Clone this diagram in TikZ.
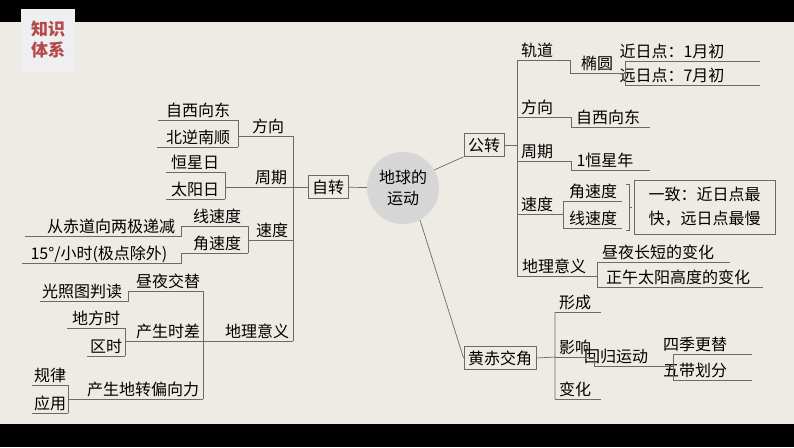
\documentclass[tikz,border=0pt]{standalone}
\usepackage{fontspec}
\setmainfont{Noto Sans CJK SC}
\begin{document}
\begin{tikzpicture}[x=1pt,y=-1pt,
  lab/.style={anchor=base,inner sep=0pt,font=\fontsize{16}{18}\selectfont,text=black},
  ln/.style={draw=lncol,line width=0.7pt},
  bx/.style={draw=lncol,line width=0.9pt,inner sep=4pt,font=\fontsize{16}{18}\selectfont}]
\definecolor{bgc}{HTML}{EDEBE3}
\definecolor{lncol}{HTML}{6E6A5E}
\definecolor{badge}{HTML}{EFEFF1}
\definecolor{redc}{HTML}{B5484A}
\fill[bgc] (0,0) rectangle (794,447);
\fill[black] (0,0) rectangle (794,22);
\fill[black] (0,424) rectangle (794,447);
\fill[badge] (21,9) rectangle (75,72);
\node[text=redc,font=\fontsize{17}{21}\selectfont\bfseries,align=center] (badge) at (48,40) {知识\\体系};
\newcommand\tx[4]{\node[lab] (#1) at (#2,#3-4) {#4};}
% center
\node[circle,fill=black!16,minimum size=72pt,inner sep=0pt,align=center,font=\fontsize{16}{21}\selectfont] (c) at (403,188) {地球的\\运动};
\node[bx] (zz) at (328,187) {自转};
\node[bx] (gzb) at (484,145) {公转};
\node[bx] (hc) at (500,358) {黄赤交角};
\draw[ln] (c) -- (zz);
\draw[ln] (c.30) -- (gzb.south west);
\draw[ln] (c.-62) -- (hc.west);
% left texts
\tx{fx}{268}{136}{方向}\tx{zx}{198}{120}{自西向东}\tx{bn}{198}{147}{北逆南顺}
\tx{zq}{271}{187}{周期}\tx{hx}{195}{172}{恒星日}\tx{ty}{195}{199}{太阳日}
\tx{sd}{272}{240}{速度}\tx{xs}{217}{226}{线速度}\tx{js}{217}{253}{角速度}
\tx{cd}{111}{236}{从赤道向两极递减}\tx{jd}{99}{263}{15°/小时(极点除外)}
\tx{dl}{257}{341}{地理意义}\tx{zy}{168}{291}{昼夜交替}\tx{gz}{82}{301}{光照图判读}
\tx{cs}{168}{341}{产生时差}\tx{df}{96}{328}{地方时}\tx{qs}{106}{356}{区时}
\tx{pd}{143}{399}{产生地转偏向力}\tx{gl}{50}{385}{规律}\tx{yy}{50}{413}{应用}
% left lines
\draw[ln] (zz.west) -- (293,187);
\draw[ln] (293,136) -- (293,341);
\draw[ln] (293,136) -- (238,136) (238,120) -- (238,147) (238,120) -- (158,120) (238,147) -- (157,147);
\draw[ln] (293,187) -- (225,187) (225,172) -- (225,199) (225,172) -- (166,172) (225,199) -- (166,199);
\draw[ln] (293,240) -- (248,240) (248,226) -- (248,253) (248,226) -- (181,226) (248,253) -- (181,253);
\draw[ln] (181,226) -- (181,236) -- (25,236) (181,253) -- (181,263) -- (22,263);
\draw[ln] (293,341) -- (203,341) (203,291) -- (203,399);
\draw[ln] (203,291) -- (128,291) -- (128,301) -- (40,301);
\draw[ln] (203,341) -- (125,341) (125,328) -- (125,356) (125,328) -- (67,328) (125,356) -- (87,356);
\draw[ln] (203,399) -- (68,399) (68,385) -- (68,413) (68,385) -- (32,385) (68,413) -- (32,413);
% right texts
\tx{gd}{537}{60}{轨道}\tx{ty2}{597}{73}{椭圆}\tx{jr}{672}{61}{近日点：1月初}\tx{yr}{672}{85}{远日点：7月初}
\tx{fx2}{537}{117}{方向}\tx{zx2}{608}{127}{自西向东}
\tx{zq2}{537}{161}{周期}\tx{hn}{605}{170}{1恒星年}
\tx{sd2}{537}{214}{速度}\tx{js2}{593}{201}{角速度}\tx{xs2}{593}{228}{线速度}
\tx{dl2}{554}{276}{地理意义}\tx{zc}{658}{262}{昼夜长短的变化}\tx{zw}{678}{287}{正午太阳高度的变化}
\tx{xc}{575}{312}{形成}\tx{yx}{575}{357}{影响}\tx{bh}{575}{399}{变化}
\tx{hg}{616}{366}{回归运动}\tx{sj}{695}{354}{四季更替}\tx{wd}{695}{380}{五带划分}
\node[draw=lncol,line width=0.9pt,minimum width=141pt,minimum height=54pt,align=center,font=\fontsize{16}{24}\selectfont] (yz) at (704.5,207) {一致：近日点最\\快，远日点最慢};
% right lines
\draw[ln] (gzb.east) -- (517,145);
\draw[ln] (517,60) -- (517,276);
\draw[ln] (517,60) -- (570,60) -- (570,73) -- (625,73) (625,61) -- (625,85) (625,61) -- (760,61) (625,85) -- (760,85);
\draw[ln] (517,117) -- (571,117) -- (571,127) -- (650,127);
\draw[ln] (517,161) -- (571,161) -- (571,170) -- (650,170);
\draw[ln] (517,214) -- (563,214) (563,201) -- (563,228) (563,201) -- (622,201) (563,228) -- (622,228);
\draw[ln] (626,184) -- (629,184) -- (629,230) -- (626,230) (629,207) -- (632,207);
\draw[ln] (517,276) -- (597,276) (597,262) -- (597,287) (597,262) -- (730,262) (597,287) -- (763,287);
\draw[ln] (hc.east) -- (555,357) (555,312) -- (555,399);
\draw[ln] (555,312) -- (601,312) (555,399) -- (601,399);
\draw[ln] (555,357) -- (594,357) -- (594,366) -- (673,366) (673,354) -- (673,380) (673,354) -- (752,354) (673,380) -- (752,380);
\end{tikzpicture}
\end{document}
